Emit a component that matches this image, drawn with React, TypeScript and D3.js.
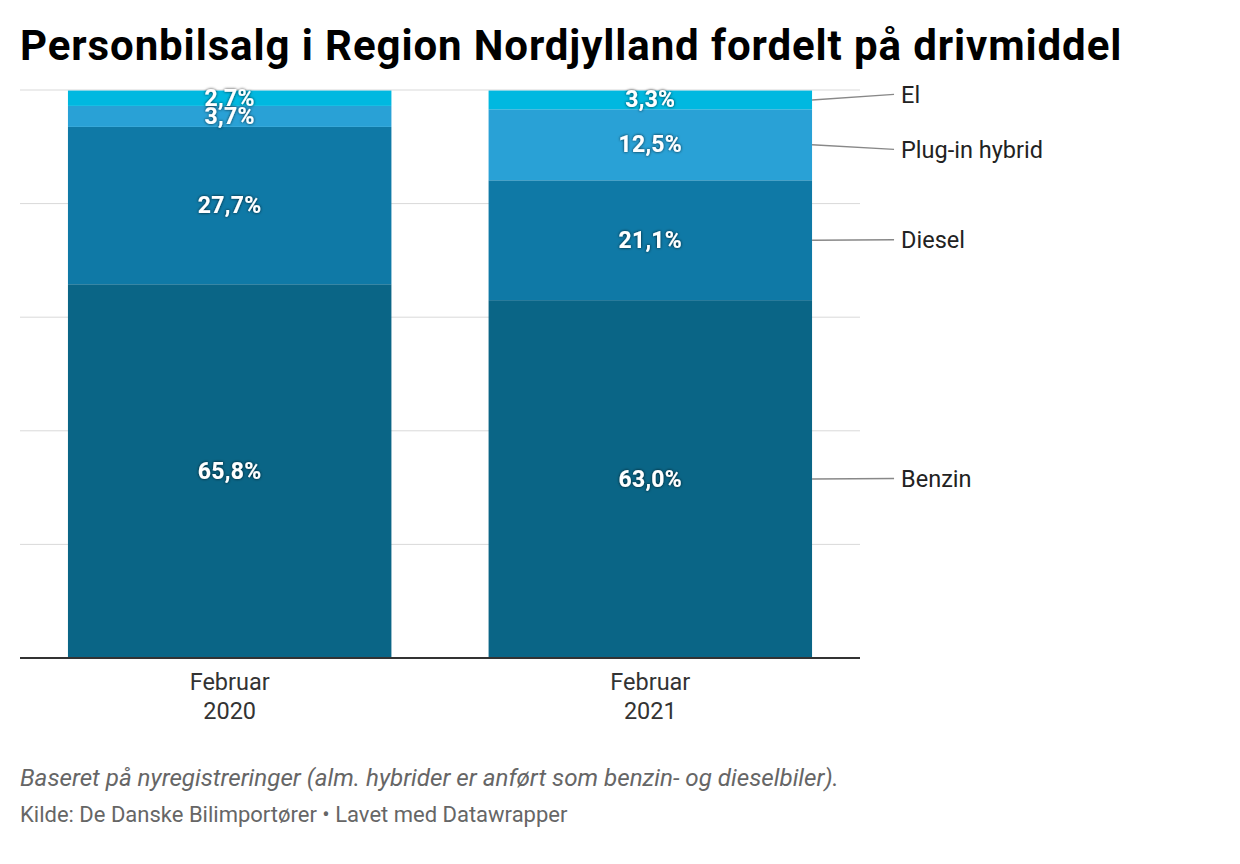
import React from "react";
import * as d3 from "d3";

const categories = ["Februar 2020", "Februar 2021"];
const seriesNames = ["Benzin", "Diesel", "Plug-in hybrid", "El"];
const benzin = [65.8, 63.0];
const diesel = [27.7, 21.1];
const pluginHybrid = [3.7, 12.5];
const el = [2.7, 3.3];
const yTicks = [0, 20, 40, 60, 80, 100];

const colors = ["#0a6586", "#0f79a6", "#29a1d6", "#00b8e0"];

const width = 1240;
const height = 864;
const margin = { top: 90, right: 380, bottom: 206, left: 20 };

const fmt = (v: number) => v.toFixed(1).replace(".", ",") + "%";

const App: React.FC = () => {
  const values = [benzin, diesel, pluginHybrid, el];

  const x = d3
    .scaleBand<string>()
    .domain(categories)
    .range([margin.left, width - margin.right])
    .paddingInner(0.231)
    .paddingOuter(0.114);

  const y = d3
    .scaleLinear()
    .domain([0, 100])
    .range([height - margin.bottom, margin.top]);

  const rows = categories.map((c, i) => {
    const r: any = { cat: c };
    seriesNames.forEach((s, j) => (r[s] = values[j][i]));
    return r;
  });
  const stacked = d3.stack<any>().keys(seriesNames)(rows);

  // label positions for the last bar, pushed apart so they don't overlap
  const last = categories.length - 1;
  const mids = stacked.map((s) => y((s[last][0] + s[last][1]) / 2));
  const labelY = mids.slice();
  const minGap = 55;
  for (let k = 0; k < 20; k++) {
    for (let j = 0; j < labelY.length - 1; j++) {
      const gap = labelY[j] - labelY[j + 1];
      if (gap < minGap) {
        const d = (minGap - gap) / 2;
        labelY[j] += d;
        labelY[j + 1] -= d;
      }
    }
  }

  const barRight = (x(categories[last]) as number) + x.bandwidth();
  const font = "Roboto, 'Noto Sans', sans-serif";

  return (
    <svg
      width={width}
      height={height}
      style={{ position: "absolute", left: 0, top: 0, background: "#fff" }}
      fontFamily={font}
    >
      <defs>
        <filter id="shadow" x="-20%" y="-40%" width="140%" height="180%">
          <feDropShadow dx="0" dy="0" stdDeviation="1.8" floodColor="#000" floodOpacity="0.8" />
        </filter>
      </defs>
      <rect width={width} height={height} fill="#fff" />
      <text x={20} y={60} fontSize={42} fontWeight={700} letterSpacing={0.9} fill="#000">
        Personbilsalg i Region Nordjylland fordelt på drivmiddel
      </text>

      {yTicks.map((t) => (
        <line
          key={t}
          x1={margin.left}
          x2={width - margin.right}
          y1={y(t)}
          y2={y(t)}
          stroke="#d9d9d9"
          strokeWidth={1}
        />
      ))}

      {stacked.map((s, j) => (
        <g key={s.key}>
          {s.map((d, i) => (
            <rect
              key={i}
              x={x(categories[i])}
              width={x.bandwidth()}
              y={y(d[1])}
              height={y(d[0]) - y(d[1])}
              fill={colors[j]}
            />
          ))}
        </g>
      ))}

      {stacked.map((s, j) =>
        s.map((d, i) => (
          <text
            key={s.key + i}
            x={(x(categories[i]) as number) + x.bandwidth() / 2}
            y={y((d[0] + d[1]) / 2)}
            textAnchor="middle"
            dominantBaseline="central"
            fontSize={23}
            fontWeight={700}
            letterSpacing={0.3}
            fill="#fff"
            filter="url(#shadow)"
          >
            {fmt(values[j][i])}
          </text>
        ))
      )}

      <line
        x1={margin.left}
        x2={width - margin.right}
        y1={y(0)}
        y2={y(0)}
        stroke="#333"
        strokeWidth={2}
      />

      {seriesNames.map((s, j) => (
        <g key={s}>
          <line
            x1={barRight}
            y1={mids[j]}
            x2={barRight + 82}
            y2={labelY[j] - 0.5}
            stroke="#888"
            strokeWidth={1.5}
          />
          <text
            x={barRight + 89}
            y={labelY[j]}
            dominantBaseline="central"
            fontSize={23.5}
            fill="#222"
          >
            {s}
          </text>
        </g>
      ))}

      {categories.map((c) => {
        const [m, yr] = c.split(" ");
        const cx = (x(c) as number) + x.bandwidth() / 2;
        return (
          <text key={c} x={cx} textAnchor="middle" fontSize={23.5} fill="#333">
            <tspan x={cx} y={690}>
              {m}
            </tspan>
            <tspan x={cx} y={719}>
              {yr}
            </tspan>
          </text>
        );
      })}

      <text x={20} y={786} fontSize={24.2} fontStyle="italic" fill="#666">
        Baseret på nyregistreringer (alm. hybrider er anført som benzin- og dieselbiler).
      </text>
      <text x={20} y={822} fontSize={22} fill="#666">
        Kilde: De Danske Bilimportører • Lavet med Datawrapper
      </text>
    </svg>
  );
};

export default App;
